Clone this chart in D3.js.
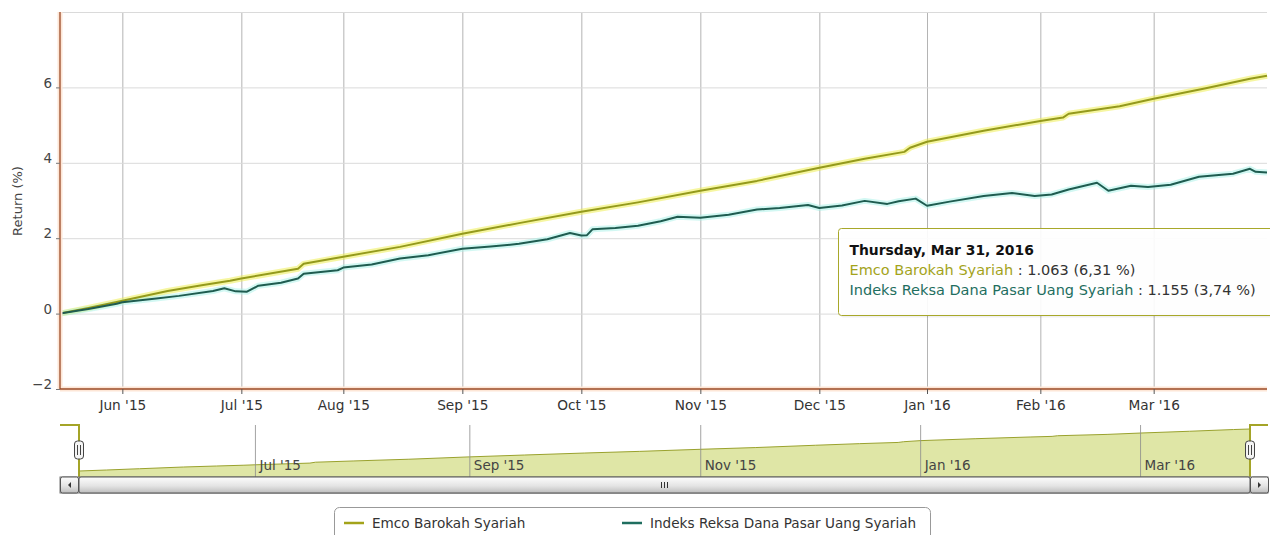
<!DOCTYPE html>
<html>
<head>
<meta charset="utf-8">
<script src="https://cdn.jsdelivr.net/npm/d3@7"></script>
<style>
  body { margin: 0; background: #fff; }
  text { font-family: "DejaVu Sans", sans-serif; }
</style>
</head>
<body>
<svg id="chart" width="1270" height="535"></svg>
<script>
var seriesNames = ["Emco Barokah Syariah", "Indeks Reksa Dana Pasar Uang Syariah"];
var firstDay = "2015-05-15", lastDay = "2016-03-31";
// days with no price (exchange closed) - the x axis is ordinal, so these are skipped
var closedDays = ["2015-06-02", "2015-07-16", "2015-07-17", "2015-07-20", "2015-07-21", "2015-07-22",
  "2015-09-24", "2015-10-14", "2015-12-09", "2015-12-24", "2015-12-25", "2015-12-31",
  "2016-01-01", "2016-02-08", "2016-03-09", "2016-03-25"];

var emcoDates = ["2015-05-15", "2015-05-22", "2015-05-29", "2015-06-01", "2015-06-12", "2015-06-22", "2015-06-29",
  "2015-07-01", "2015-07-15", "2015-07-23", "2015-08-03", "2015-08-17", "2015-09-01", "2015-09-15",
  "2015-10-01", "2015-10-16", "2015-11-02", "2015-11-16", "2015-12-01", "2015-12-14", "2015-12-23",
  "2015-12-28", "2016-01-04", "2016-01-18", "2016-02-01", "2016-02-05", "2016-02-09", "2016-02-22",
  "2016-03-01", "2016-03-15", "2016-03-28", "2016-03-31"];
var emcoValues = [0, 0.15, 0.31, 0.34, 0.60, 0.75, 0.87,
  0.93, 1.19, 1.32, 1.51, 1.77, 2.12, 2.40,
  2.70, 2.95, 3.26, 3.52, 3.87, 4.11, 4.29,
  4.40, 4.56, 4.85, 5.11, 5.20, 5.30, 5.50,
  5.70, 5.97, 6.23, 6.31];

var indeksDates = ["2015-05-15", "2015-05-22", "2015-05-29", "2015-06-01", "2015-06-10", "2015-06-16", "2015-06-24",
  "2015-06-26", "2015-06-30", "2015-07-02", "2015-07-06", "2015-07-10", "2015-07-15", "2015-07-23",
  "2015-07-31", "2015-08-03", "2015-08-10", "2015-08-17", "2015-08-24", "2015-09-01", "2015-09-08",
  "2015-09-15", "2015-09-22", "2015-09-29", "2015-10-01", "2015-10-02", "2015-10-05", "2015-10-09",
  "2015-10-16", "2015-10-22", "2015-10-27", "2015-11-02", "2015-11-09", "2015-11-16", "2015-11-20",
  "2015-11-27", "2015-12-01", "2015-12-07", "2015-12-14", "2015-12-18", "2015-12-22", "2015-12-29",
  "2016-01-04", "2016-01-08", "2016-01-18", "2016-01-25", "2016-01-29", "2016-02-03", "2016-02-09",
  "2016-02-16", "2016-02-18", "2016-02-24", "2016-02-29", "2016-03-04", "2016-03-14", "2016-03-22",
  "2016-03-28", "2016-03-29", "2016-03-31"];
var indeksValues = [0, 0.12, 0.26, 0.30, 0.40, 0.47, 0.60,
  0.67, 0.59, 0.58, 0.74, 0.82, 0.93, 1.06,
  1.15, 1.22, 1.30, 1.46, 1.55, 1.72, 1.78,
  1.85, 1.97, 2.14, 2.07, 2.08, 2.24, 2.27,
  2.33, 2.45, 2.57, 2.54, 2.62, 2.76, 2.80,
  2.88, 2.80, 2.87, 2.99, 2.91, 2.98, 3.05,
  2.86, 2.97, 3.12, 3.20, 3.12, 3.16, 3.29,
  3.47, 3.26, 3.39, 3.36, 3.42, 3.63, 3.71,
  3.84, 3.76, 3.74];

var yTicks = [-2, 0, 2, 4, 6, 8];
var tooltipTitle = "Thursday, Mar 31, 2016";
var tooltipNav = ["1.063", "1.155"];
var tooltipPct = ["6,31 %", "3,74 %"];

var colors = ["#949a1c", "#1f5c50"],      // line colour
    glows = ["#eeee44", "#a6f2e8"],       // hover glow round the line
    legendColors = ["#a3a31a", "#1f6e5f"];

var parse = d3.timeParse("%Y-%m-%d"), fmt = d3.timeFormat("%Y-%m-%d");
var closedSet = new Set(closedDays);
var days = d3.timeDay.range(parse(firstDay), d3.timeDay.offset(parse(lastDay), 1))
  .filter(function(d) { return d.getDay() > 0 && d.getDay() < 6 && !closedSet.has(fmt(d)); });
var dayIndex = {};
days.forEach(function(d, i) { dayIndex[fmt(d)] = i; });

function toPoints(dates, values) {
  return dates.map(function(d, i) { return { i: dayIndex[d], v: values[i] }; });
}
var series = [toPoints(emcoDates, emcoValues), toPoints(indeksDates, indeksValues)];

// first trading day of every month
var monthStarts = [];
days.forEach(function(d, i) {
  if (i > 0 && d.getMonth() !== days[i - 1].getMonth()) monthStarts.push(i);
});
var monthFmt = d3.timeFormat("%b '%y");

var pLeft = 60, pRight = 1267, pTop = 12, pBottom = 389;
var svg = d3.select("#chart");

var x = d3.scaleLinear().domain([0, days.length - 1]).range([pLeft, pRight]);
var y = d3.scaleLinear().domain([-2, 8]).range([pBottom, pTop]);

// grid
svg.append("g").attr("transform", "translate(0," + pBottom + ")")
  .call(d3.axisBottom(x).tickValues(monthStarts).tickSize(-(pBottom - pTop)).tickFormat(""))
  .call(function(g) { g.select(".domain").remove(); g.selectAll("line").attr("stroke", "#b4b4b4"); });
svg.append("g").attr("transform", "translate(" + pLeft + ",0)")
  .call(d3.axisLeft(y).tickValues(yTicks.filter(function(t) { return t > -2; })).tickSize(-(pRight - pLeft)).tickFormat(""))
  .call(function(g) { g.select(".domain").remove(); g.selectAll("line").attr("stroke", "#dadada"); });

// series
var line = d3.line().x(function(d) { return x(d.i); }).y(function(d) { return y(d.v); });
series.forEach(function(s, k) {
  svg.append("path").datum(s).attr("d", line).attr("fill", "none")
    .attr("stroke", glows[k]).attr("stroke-opacity", 0.5).attr("stroke-width", 6).attr("stroke-linejoin", "round");
});
series.forEach(function(s, k) {
  svg.append("path").datum(s).attr("d", line).attr("fill", "none")
    .attr("stroke", colors[k]).attr("stroke-width", 2).attr("stroke-linejoin", "round");
});

// axes
var axisColor = "#9a4a26";
svg.append("line").attr("x1", pLeft).attr("x2", pLeft).attr("y1", pTop).attr("y2", pBottom)
  .attr("stroke", "#fde6d6").attr("stroke-width", 5);
svg.append("line").attr("x1", pLeft).attr("x2", pRight).attr("y1", pBottom).attr("y2", pBottom)
  .attr("stroke", "#fde6d6").attr("stroke-width", 5);

var xAxis = svg.append("g").attr("transform", "translate(0," + pBottom + ")")
  .call(d3.axisBottom(x).tickValues(monthStarts).tickSize(5).tickPadding(6)
    .tickFormat(function(i) { return monthFmt(days[i]); }));
xAxis.select(".domain").attr("stroke", axisColor).attr("stroke-width", 1.3).attr("d", "M" + pLeft + ",0H" + pRight);
xAxis.selectAll("line").attr("stroke", "#555");
xAxis.selectAll("text").attr("fill", "#333").attr("font-size", 13.7).attr("font-family", "DejaVu Sans");

var yAxis = svg.append("g").attr("transform", "translate(" + pLeft + ",0)")
  .call(d3.axisLeft(y).tickValues(yTicks.slice(0, -1)).tickSize(4).tickPadding(4));
yAxis.select(".domain").attr("stroke", axisColor).attr("stroke-width", 1.3)
  .attr("d", "M0," + pTop + "V" + pBottom);
yAxis.selectAll("line").attr("stroke", "#777");
yAxis.selectAll("text").attr("fill", "#444").attr("font-size", 13.5).attr("font-family", "DejaVu Sans")
  .attr("dy", "-0.02em");

svg.append("text").attr("transform", "translate(22,201) rotate(-90)")
  .attr("text-anchor", "middle").attr("font-size", 13).attr("fill", "#444").text("Return (%)");

// navigator
var navL = 79, navR = 1250, navTop = 425, navBottom = 477;
var nx = d3.scaleLinear().domain([0, days.length - 1]).range([navL, navR]);
var ny = d3.scaleLinear().domain(d3.extent(emcoValues)).range([471, 429]);
var nav = svg.append("g");
nav.append("path").datum(series[0])
  .attr("d", d3.area().x(function(d) { return nx(d.i); }).y0(navBottom).y1(function(d) { return ny(d.v); }))
  .attr("fill", "#dfe6a6");
nav.append("path").datum(series[0])
  .attr("d", d3.line().x(function(d) { return nx(d.i); }).y(function(d) { return ny(d.v); }))
  .attr("fill", "none").attr("stroke", "#9aa22e").attr("stroke-width", 1);
var navTicks = monthStarts.filter(function(d, k) { return k % 2 === 1; });
var navAxis = nav.append("g").attr("transform", "translate(0," + navBottom + ")")
  .call(d3.axisBottom(nx).tickValues(navTicks).tickSize(-(navBottom - navTop)).tickPadding(0)
    .tickFormat(function(i) { return monthFmt(days[i]); }));
navAxis.select(".domain").remove();
navAxis.selectAll("line").attr("stroke", "#8c8c8c").attr("stroke-width", 0.8);
navAxis.selectAll("text").attr("text-anchor", "start").attr("x", 4).attr("y", -7).attr("dy", 0)
  .attr("fill", "#444").attr("font-size", 13.5).attr("font-family", "DejaVu Sans");

nav.append("path")
  .attr("d", "M" + pLeft + "," + navTop + "H" + navL + "V" + navBottom + "M" + navR + "," + navBottom + "V" + navTop + "H" + (pRight + 1))
  .attr("fill", "none").attr("stroke", "#a4a428").attr("stroke-width", 2);
[navL, navR].forEach(function(hx) {
  var h = nav.append("g").attr("transform", "translate(" + hx + "," + (navTop + 25) + ")");
  h.append("rect").attr("x", -4.5).attr("y", -9).attr("width", 9).attr("height", 18).attr("rx", 3)
    .attr("fill", "#f4f4f4").attr("stroke", "#444").attr("stroke-width", 1);
  h.append("path").attr("d", "M-1.5,-5V5M1.5,-5V5").attr("stroke", "#444").attr("stroke-width", 1);
});

// scrollbar
var defs = svg.append("defs");
var grad = defs.append("linearGradient").attr("id", "sb").attr("x1", 0).attr("x2", 0).attr("y1", 0).attr("y2", 1);
grad.append("stop").attr("offset", "0").attr("stop-color", "#fdfdfd");
grad.append("stop").attr("offset", "0.55").attr("stop-color", "#e4e4e4");
grad.append("stop").attr("offset", "1").attr("stop-color", "#bdbdbd");
var sbY = 477, sbH = 16;
svg.append("rect").attr("x", pLeft).attr("y", sbY).attr("width", pRight + 1 - pLeft).attr("height", sbH)
  .attr("fill", "#eee").attr("stroke", "#777");
svg.append("rect").attr("x", navL).attr("y", sbY).attr("width", navR - navL).attr("height", sbH)
  .attr("rx", 2).attr("fill", "url(#sb)").attr("stroke", "#555");
svg.append("path").attr("d", "M" + ((navL + navR) / 2 - 3) + "," + (sbY + 5) + "v6m3,-6v6m3,-6v6")
  .attr("stroke", "#333").attr("stroke-width", 1);
[[pLeft, -1], [navR, 1]].forEach(function(b) {
  svg.append("rect").attr("x", b[0] + 0.5).attr("y", sbY).attr("width", 18).attr("height", sbH).attr("rx", 2)
    .attr("fill", "url(#sb)").attr("stroke", "#555");
  var cx = b[0] + 9.5, cy = sbY + 8;
  svg.append("path").attr("d", b[1] < 0
      ? "M" + (cx + 1.5) + "," + (cy - 3) + "L" + (cx - 1.5) + "," + cy + "L" + (cx + 1.5) + "," + (cy + 3) + "Z"
      : "M" + (cx - 1.5) + "," + (cy - 3) + "L" + (cx + 1.5) + "," + cy + "L" + (cx - 1.5) + "," + (cy + 3) + "Z")
    .attr("fill", "#333");
});

// legend
var legend = svg.append("g");
legend.append("rect").attr("x", 334.5).attr("y", 507.5).attr("width", 596).attr("height", 40).attr("rx", 5)
  .attr("fill", "#fff").attr("stroke", "#999");
[344, 622].forEach(function(lx, k) {
  legend.append("line").attr("x1", lx).attr("x2", lx + 20).attr("y1", 523).attr("y2", 523)
    .attr("stroke", legendColors[k]).attr("stroke-width", 2.5);
  legend.append("text").attr("x", lx + 28).attr("y", 528).attr("font-size", 13.6).attr("fill", "#333")
    .text(seriesNames[k]);
});

// tooltip (last point)
var tip = svg.append("g").attr("transform", "translate(838.5,228.5)");
tip.append("rect").attr("x", 2).attr("y", 2).attr("width", 440).attr("height", 87).attr("rx", 3)
  .attr("fill", "#000").attr("opacity", 0.06);
tip.append("rect").attr("width", 440).attr("height", 87).attr("rx", 3)
  .attr("fill", "#fff").attr("fill-opacity", 0.92).attr("stroke", "#a8a82a").attr("stroke-width", 1);
tip.append("text").attr("x", 11).attr("y", 26).attr("font-size", 13.9).attr("font-weight", "bold")
  .attr("fill", "#111").text(tooltipTitle);
seriesNames.forEach(function(n, k) {
  var t = tip.append("text").attr("x", 11).attr("y", 46 + k * 20).attr("font-size", 14.5);
  t.append("tspan").attr("fill", legendColors[k]).text(n);
  t.append("tspan").attr("fill", "#333").text(" : " + tooltipNav[k] + " (" + tooltipPct[k] + ")");
});
</script>
</body>
</html>
